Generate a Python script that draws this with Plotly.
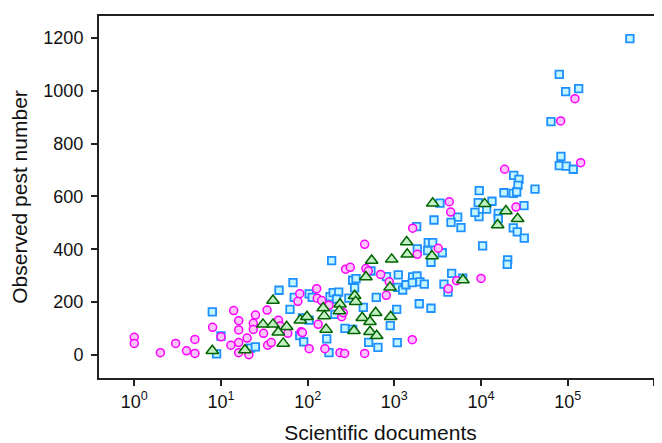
import plotly.graph_objects as go

# Magenta circles
circ_x = [1, 1, 2, 3, 4, 5, 5, 8, 10, 14, 13, 16, 16, 16, 16, 20, 21, 23.6, 23.6, 25,
          31, 34, 34.5, 38, 46, 48, 59, 77, 81, 84, 87, 104, 127, 129, 145, 176, 132,
          158, 236, 267, 247, 257, 274, 310, 454, 470, 500, 454, 695, 807, 873, 1610,
          1626, 1838, 3207, 4186, 5230, 10000, 4297, 4460, 25250, 18700, 121000, 82800,
          141000]
circ_y = [67, 44, 9, 44, 16, 59, 6, 105, 69, 168, 37, 130, 95, 47, 9, 64, 1, 120, 97, 151,
          82, 170, 37, 47, 132, 110, 82, 203, 232, 88, 85, 24, 251, 215, 206, 188, 116,
          24, 9, 6, 145, 160, 325, 332, 419, 327, 318, 6, 305, 226, 277, 58,
          480, 381, 404, 251, 281, 290, 580, 541, 560, 703, 970, 886,
          728]

# Blue squares
sq_x = [7.94, 8.9, 10, 22, 24.9, 46.7, 67.7, 62.5, 70, 81, 90, 87, 104, 113, 181, 197,
        228, 216, 189, 299, 330, 361, 348, 537, 438, 618, 269, 330, 166, 176, 206, 505,
        647, 897, 1063, 1080, 1109, 1092, 1247, 1362, 1626, 1823, 1610, 1972, 2213, 1936,
        2644, 3732, 4150, 4580, 6137, 1838, 1808, 2460, 2767, 2422, 3566, 2644, 2865,
        3357, 5370, 4498, 5864, 9530, 9280, 9460, 8500, 11600, 13370, 10420, 18370,
        23500, 15790, 15790, 31250, 23500, 26170, 31500, 20270, 20050, 41880, 521000,
        79800, 94600, 133600, 64000, 83400, 79800, 96100, 115700, 23770, 27350, 26650,
        25720, 811, 104]
sq_y = [163, 4, 72, 26, 31, 245, 274, 173, 218, 73, 50, 140, 231, 218, 221, 236,
        238, 212, 357, 215, 283, 289, 254, 318, 180, 218, 101, 97, 61, 9, 154, 48,
        29, 111, 173, 47, 303, 256, 246, 266, 296, 299, 274, 277, 268, 194,
        177, 268, 238, 309, 291, 402, 486, 425, 425, 395, 387, 351, 511,
        575, 522, 502, 482, 622, 577, 524, 540, 552, 582, 413, 614,
        612, 536, 516, 565, 481, 466, 442, 360, 343, 628, 1197,
        1062, 997, 1008, 883, 752, 717, 715, 703, 680, 665, 642,
        617, 297, 132]

# Green triangles
tri_x = [7.94, 18.9, 39.8, 30.5, 39.8, 45.8, 52.3, 57.2, 82.2, 98, 151, 155, 163, 236,
         232, 348, 358, 342, 426, 523, 608, 523, 625, 906, 470, 547, 931, 890, 1387,
         1408, 2715, 2767, 6180, 11000, 19360, 26400, 15540]
tri_y = [16, 19, 206, 116, 116, 86, 44, 107, 132, 145, 178, 148, 97, 192,
         167, 224, 202, 92, 141, 126, 160, 88, 73, 145, 295, 358, 362, 256, 428,
         381, 375, 574, 284, 572, 545, 516, 492]

x_tick_vals = [1, 10, 100, 1000, 10000, 100000, 1000000]
x_tick_text = ["10<sup>0</sup>", "10<sup>1</sup>", "10<sup>2</sup>", "10<sup>3</sup>",
               "10<sup>4</sup>", "10<sup>5</sup>", " "]
y_tick_vals = [0, 200, 400, 600, 800, 1000, 1200]

fig = go.Figure()
fig.add_trace(go.Scatter(
    x=sq_x, y=sq_y, mode="markers",
    marker=dict(symbol="square", size=7.5, color="#c4f6ff",
                line=dict(color="#1e90ff", width=1.8)),
    showlegend=False))
fig.add_trace(go.Scatter(
    x=circ_x, y=circ_y, mode="markers",
    marker=dict(symbol="circle", size=8, color="#ffc4ff",
                line=dict(color="#ff00ff", width=1.5)),
    showlegend=False))
fig.add_trace(go.Scatter(
    x=tri_x, y=tri_y, mode="markers",
    marker=dict(symbol="triangle-up", size=11, color="#c2f0c2",
                line=dict(color="#006400", width=1.5)),
    showlegend=False))

font = "Liberation Sans, Arial, Helvetica, sans-serif"
# the page body adds an 8px offset, so margins are shifted to compensate
fig.update_layout(
    width=662, height=443,
    margin=dict(l=91, r=8, t=8, b=73),
    plot_bgcolor="white", paper_bgcolor="white",
    font=dict(family=font, color="#111", size=18),
    xaxis=dict(
        type="log", range=[-0.407, 6.087], automargin=False,
        tickvals=x_tick_vals, ticktext=x_tick_text,
        ticks="outside", ticklen=6, tickwidth=1.5, tickcolor="#222",
        showline=True, linecolor="#222", linewidth=2, mirror=True,
        showgrid=False, zeroline=False,
        tickfont=dict(size=18),
        title=dict(text="Scientific documents", font=dict(size=21), standoff=15),
    ),
    yaxis=dict(
        range=[-87, 1283], automargin=False,
        tickvals=y_tick_vals,
        ticks="outside", ticklen=6, tickwidth=1.5, tickcolor="#222",
        showline=True, linecolor="#222", linewidth=2, mirror=False,
        showgrid=False, zeroline=False,
        tickfont=dict(size=18), ticklabelstandoff=4,
        title=dict(text="Observed pest number", font=dict(size=21), standoff=12),
    ),
)

fig.write_html("out.html")
